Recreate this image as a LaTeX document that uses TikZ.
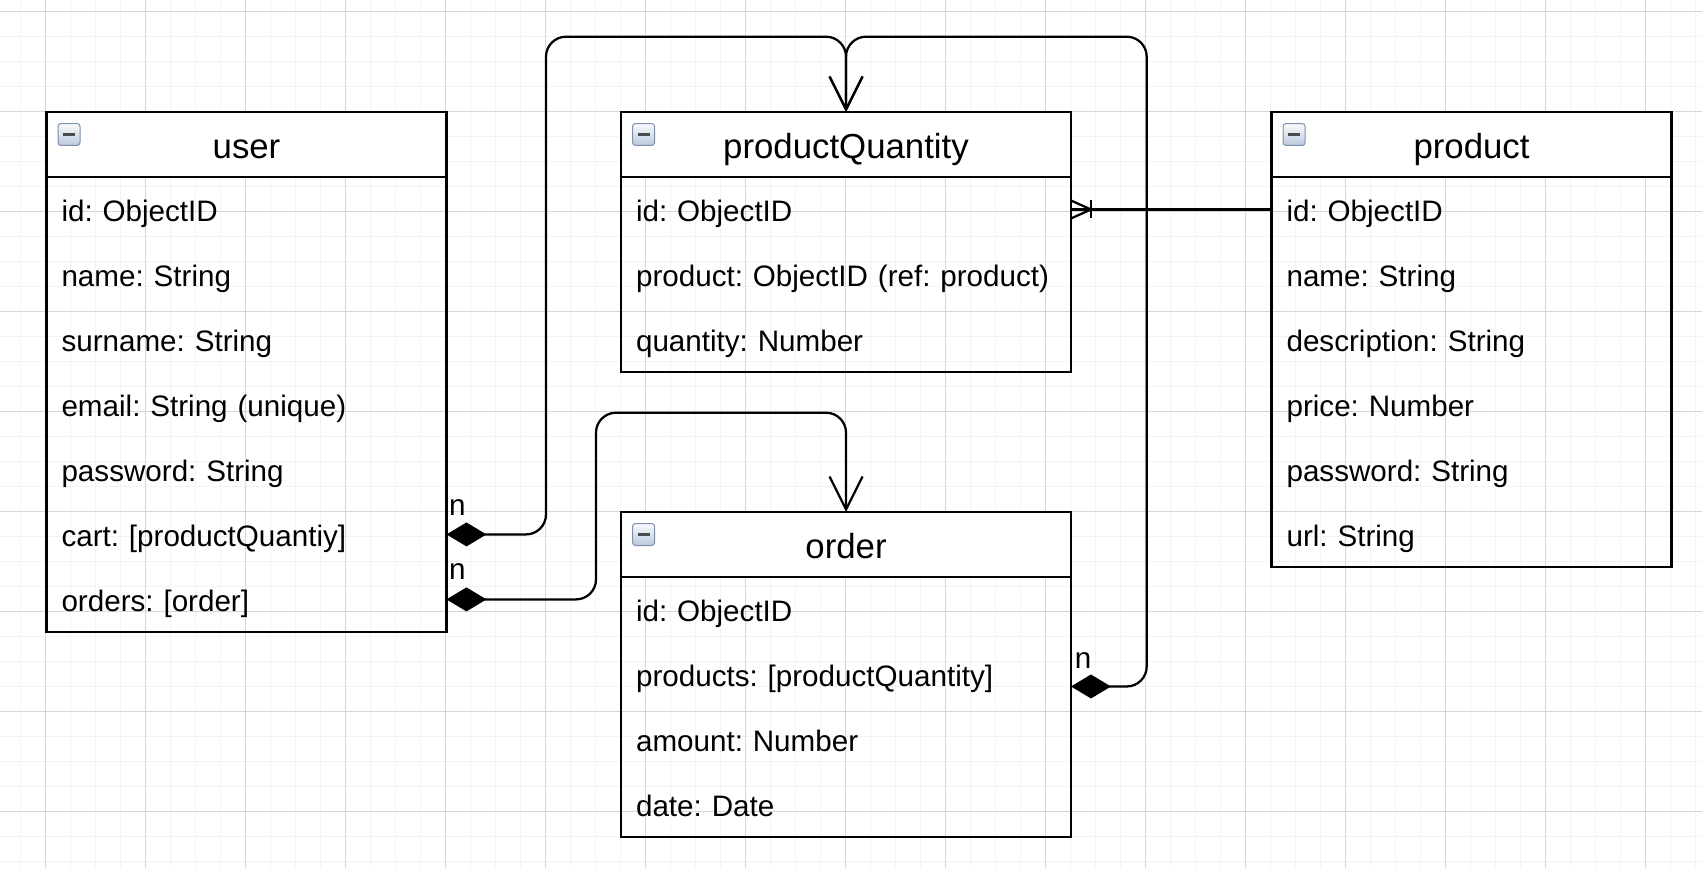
\documentclass[tikz,border=0pt]{standalone}
\usepackage{fontspec}
\setmainfont{Liberation Sans}
\usetikzlibrary{arrows.meta,positioning}
\frenchspacing

\definecolor{gridminor}{RGB}{243,243,243}
\definecolor{gridmajor}{RGB}{214,214,214}
\definecolor{icontop}{RGB}{250,251,253}
\definecolor{iconbot}{RGB}{186,200,220}
\definecolor{iconedge}{RGB}{125,145,170}

\newcommand{\rowfont}{\fontsize{16.85pt}{20pt}\selectfont}
\newcommand{\titlefont}{\fontsize{19.8pt}{23pt}\selectfont}

\tikzset{
    header/.style={draw, line width=0.045cm, fill=white, minimum width=#1,
        minimum height=1.3cm, inner sep=0pt, outer sep=0pt, font=\titlefont,
        text height=0.62cm, text depth=0.06cm},
    field/.style={text width=#1, inner xsep=0.3cm, inner ysep=0pt, outer sep=0pt,
        minimum height=1.3cm, align=left, font=\rowfont,
        text height=0.55cm, text depth=0.06cm},
    boxline/.style={line width=0.045cm},
    icon/.style={rectangle, rounded corners=0.06cm, minimum size=0.44cm, inner sep=0pt,
        draw=iconedge, line width=0.02cm, top color=icontop, bottom color=iconbot,
        path picture={\draw[line width=0.06cm, draw=black!70]
            ([xshift=0.1cm]path picture bounding box.west) --
            ([xshift=-0.1cm]path picture bounding box.east);}},
    conn/.style={line width=0.045cm, rounded corners=0.4cm},
    comp/.style={conn, {Diamond[length=0.8cm, width=0.48cm]}-{Straight Barb[length=0.66cm, width=0.66cm]}},
    crow/.style={line width=0.045cm},
    mult/.style={inner sep=0pt, font=\rowfont}
}

\begin{document}
\begin{tikzpicture}[x=0.02cm, y=-0.02cm]
    \useasboundingbox (0,0) rectangle (1702,868);
    \fill[white] (0,0) rectangle (1702,868);

    % grid
    \foreach \x in {20.7,45.7,...,1700} \draw[gridminor, line width=0.03cm] (\x,0) -- (\x,868);
    \foreach \y in {11.7,36.7,...,868} \draw[gridminor, line width=0.03cm] (0,\y) -- (1702,\y);
    \foreach \x in {45.7,145.7,...,1700} \draw[gridmajor, line width=0.02cm] (\x,0) -- (\x,868);
    \foreach \y in {11.7,111.7,...,868} \draw[gridmajor, line width=0.02cm] (0,\y) -- (1702,\y);

    % user
    \node[header=8cm] (user) at (246.5,144.5) {user};
    \node[field=7.4cm, below=0pt of user] (user-id) {id: ObjectID};
    \node[field=7.4cm, below=0pt of user-id] (user-name) {name: String};
    \node[field=7.4cm, below=0pt of user-name] (user-surname) {surname: String};
    \node[field=7.4cm, below=0pt of user-surname] (user-email) {email: String (unique)};
    \node[field=7.4cm, below=0pt of user-email] (user-password) {password: String};
    \node[field=7.4cm, below=0pt of user-password] (user-cart) {cart: [productQuantiy]};
    \node[field=7.4cm, below=0pt of user-cart] (user-orders) {orders: [order]};
    \draw[boxline] (user.south west) rectangle (user-orders.south east);
    \node[icon, below right=0.22cm and 0.22cm of user.north west] (user-icon) {};

    % productQuantity
    \node[header=9cm] (pq) at (846,144.5) {productQuantity};
    \node[field=8.4cm, below=0pt of pq] (pq-id) {id: ObjectID};
    \node[field=8.4cm, below=0pt of pq-id] (pq-product) {product: ObjectID (ref: product)};
    \node[field=8.4cm, below=0pt of pq-product] (pq-quantity) {quantity: Number};
    \draw[boxline] (pq.south west) rectangle (pq-quantity.south east);
    \node[icon, below right=0.22cm and 0.22cm of pq.north west] (pq-icon) {};

    % product
    \node[header=8cm] (product) at (1471.5,144.5) {product};
    \node[field=7.4cm, below=0pt of product] (product-id) {id: ObjectID};
    \node[field=7.4cm, below=0pt of product-id] (product-name) {name: String};
    \node[field=7.4cm, below=0pt of product-name] (product-description) {description: String};
    \node[field=7.4cm, below=0pt of product-description] (product-price) {price: Number};
    \node[field=7.4cm, below=0pt of product-price] (product-password) {password: String};
    \node[field=7.4cm, below=0pt of product-password] (product-url) {url: String};
    \draw[boxline] (product.south west) rectangle (product-url.south east);
    \node[icon, below right=0.22cm and 0.22cm of product.north west] (product-icon) {};

    % order
    \node[header=9cm] (order) at (846,544.5) {order};
    \node[field=8.4cm, below=0pt of order] (order-id) {id: ObjectID};
    \node[field=8.4cm, below=0pt of order-id] (order-products) {products: [productQuantity]};
    \node[field=8.4cm, below=0pt of order-products] (order-amount) {amount: Number};
    \node[field=8.4cm, below=0pt of order-amount] (order-date) {date: Date};
    \draw[boxline] (order.south west) rectangle (order-date.south east);
    \node[icon, below right=0.22cm and 0.22cm of order.north west] (order-icon) {};

    % relations
    \draw[comp] (user-cart.east) -| (546,36.7) -| (pq.north);
    \draw[comp] ([yshift=-0.24cm]order-products.east) -| (1146.7,36.7) -| (pq.north);
    \draw[comp] (user-orders.east) -| (596,412.7) -| (order.north);

    \draw[conn] (product-id.west) -- (pq-id.east);
    \draw[crow] ([yshift=0.18cm]pq-id.east) -- ++(20,9) -- ++(-20,9);
    \draw[crow] ([xshift=0.4cm,yshift=0.18cm]pq-id.east) -- ++(0,18);

    \node[mult] (cart-n) at (457.3,507.5) {n};
    \node[mult] (orders-n) at (457.3,572) {n};
    \node[mult] (products-n) at (1083,660.7) {n};
\end{tikzpicture}
\end{document}
